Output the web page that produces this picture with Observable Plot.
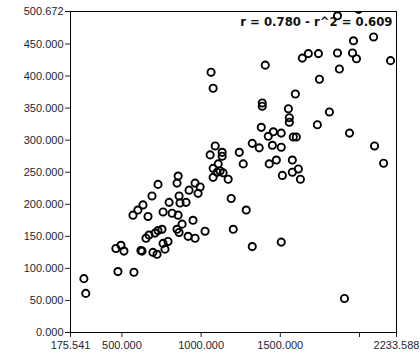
<!DOCTYPE html>
<html><head><meta charset="utf-8">
<script src="https://cdn.jsdelivr.net/npm/d3@7"></script>
<script src="https://cdn.jsdelivr.net/npm/@observablehq/plot@0.6"></script>
<style>body{margin:0;background:#fff}</style>
</head><body><div id="chart"></div>
<script>
const xValues = [260,272,475,576,462,494,513,620,627,696,722,652,671,709,728,753,760,772,791,
  570,601,633,665,690,728,760,798,817,855,848,861,867,905,880,949,848,861,918,962,1025,962,994,981,924,855,
  1063,1076,1405,1386,1386,1380,1424,1456,1506,1323,1367,1450,1506,1241,1266,1430,1475,1513,1551,1557,1557,
  1089,1133,1133,1057,1108,1076,1101,1120,1139,1076,1171,1190,1285,1203,1323,1506,
  1861,1994,1962,2089,1639,1677,1741,1861,1956,1981,2196,1873,1747,1595,1810,1734,1937,1582,1601,2095,2152,1576,1614,1627,1576,1905];
const yValues = [84,61,95,94,131,136,127,128,127,125,122,147,152,155,159,161,139,130,142,
  183,191,199,181,213,231,188,203,186,183,233,213,202,203,169,175,161,156,150,147,158,233,227,217,222,244,
  406,381,417,358,353,320,306,313,311,295,288,292,289,281,263,263,269,245,349,335,328,
  291,281,275,277,263,256,250,252,249,242,239,209,191,161,134,141,
  494,504,455,461,428,435,435,436,436,427,424,411,395,372,344,324,311,305,305,291,264,269,255,239,250,53];
const xDomain = [175.541, 2233.588];
const yDomain = [0, 500.672];
const xTicks = [175.541, 500, 1000, 1500, 2000, 2233.588];
const yTicks = [0, 50, 100, 150, 200, 250, 300, 350, 400, 450, 500.672];
const statsLabel = "r = 0.780 - r^2 = 0.609";

const data = xValues.map((x, i) => ({x, y: yValues[i]}));
const fmt = d3.format(".3f");

const chart = Plot.plot({
  width: 420, height: 360,
  marginLeft: 70, marginRight: 24, marginTop: 11, marginBottom: 28,
  style: {fontFamily: "'Liberation Sans', Arial, sans-serif", fontSize: "11px", color: "#1e1e30", background: "#fff"},
  x: {domain: xDomain, ticks: xTicks, tickFormat: d => d === 2000 ? "" : fmt(d), tickSize: 5, tickPadding: 4, label: null},
  y: {domain: yDomain, ticks: yTicks, tickFormat: fmt, tickSize: 5, tickPadding: 2, label: null},
  marks: [
    Plot.frame({stroke: "black"}),
    Plot.text([statsLabel], {frameAnchor: "top-right", dx: -4, dy: 6, fontWeight: "bold", fontSize: 11.7, fontFamily: "'DejaVu Sans', sans-serif", fill: "#111"}),
    Plot.dot(data, {x: "x", y: "y", r: 3.6, stroke: "black", strokeWidth: 1.9, clip: true})
  ]
});
document.getElementById("chart").appendChild(chart);
</script>
</body></html>
